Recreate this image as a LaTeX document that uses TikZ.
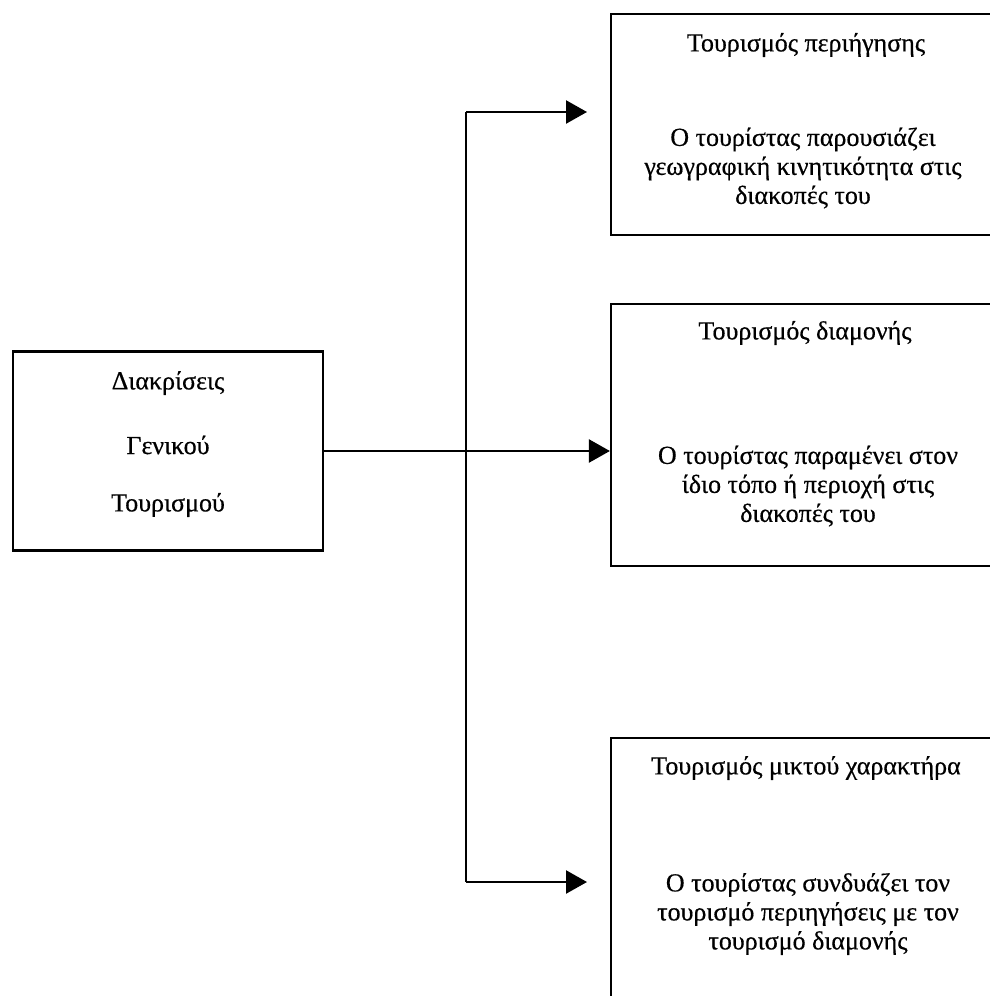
\documentclass[tikz,border=0pt]{standalone}
\usepackage{fontspec}
\setmainfont{Liberation Serif}[FakeBold=0.5]
\usetikzlibrary{arrows.meta}
\tikzset{
  box/.style={draw=black, line width=2.2pt, rectangle, inner sep=0pt},
  conn/.style={draw=black, line width=2.4pt},
  arr/.style={conn, -{Triangle[length=21pt,width=23pt]}},
  txt/.style={font=\fontsize{26}{29}\selectfont, align=center, inner sep=0pt}
}
\begin{document}
\begin{tikzpicture}[x=1pt,y=-1pt]
\useasboundingbox (0,0) rectangle (990,996);
\clip (0,0) rectangle (990,996);
% boxes
\node[box, minimum width=310pt, minimum height=199pt] (L) at (168,451) {};
\node[box, minimum width=392pt, minimum height=221pt] (T) at (807,124.5) {};
\node[box, minimum width=392pt, minimum height=262pt] (M) at (807,435) {};
\node[box, minimum width=392pt, minimum height=290pt] (B) at (807,883) {};
% texts
\node[txt] (l1) at (168,383) {Διακρίσεις};
\node[txt] (l2) at (168,445) {Γενικού};
\node[txt] (l3) at (168,505) {Τουρισμού};
\node[txt] (t1) at (806,45) {Τουρισμός περιήγησης};
\node[txt] (t2) at (803,168) {Ο τουρίστας παρουσιάζει\\γεωγραφική κινητικότητα στις\\διακοπές του};
\node[txt] (m1) at (805,333) {Τουρισμός διαμονής};
\node[txt] (m2) at (808,486) {Ο τουρίστας παραμένει στον\\ίδιο τόπο ή περιοχή στις\\διακοπές του};
\node[txt] (b1) at (806,768) {Τουρισμός μικτού χαρακτήρα};
\node[txt] (b2) at (808,914) {Ο τουρίστας συνδυάζει τον\\τουρισμό περιηγήσεις με τον\\τουρισμό διαμονής};
% connectors
\coordinate (vt) at (466,112);
\coordinate (vb) at (466,882);
\coordinate (et) at (587,112);
\coordinate (eb) at (587,882);
\draw[conn] (vt) -- (vb);
\draw[arr] (L.east) -- (L.east -| M.west);
\draw[arr] (vt) -- (et);
\draw[arr] (vb) -- (eb);
\end{tikzpicture}
\end{document}
